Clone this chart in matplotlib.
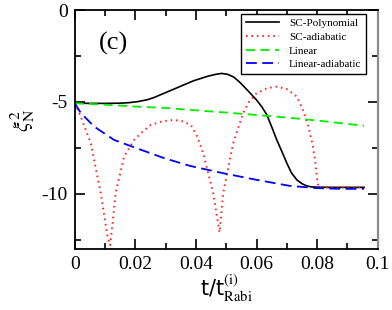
import matplotlib
matplotlib.use("Agg")
import matplotlib.pyplot as plt
from matplotlib.ticker import MultipleLocator

plt.rcParams['font.family'] = ['Liberation Serif', 'DejaVu Serif']
plt.rcParams['mathtext.fontset'] = 'stix'

# SC-Polynomial (black solid)
t_poly = [0, 0.005, 0.010, 0.015, 0.018, 0.021, 0.024, 0.0262, 0.0295, 0.0345, 0.0394,
          0.044, 0.0465, 0.0485, 0.0505, 0.0525, 0.0546, 0.0575, 0.060, 0.0618,
          0.0634, 0.065, 0.0667, 0.0685, 0.070, 0.0715, 0.0733, 0.075, 0.0766,
          0.078, 0.080, 0.085, 0.090, 0.0955]
y_poly = [-5.07, -5.08, -5.08, -5.07, -5.04, -4.98, -4.88, -4.76, -4.53, -4.18, -3.84,
          -3.6, -3.5, -3.45, -3.5, -3.65, -3.95, -4.45, -4.89, -5.28,
          -5.7, -6.35, -7.07, -7.75, -8.33, -8.85, -9.24, -9.45, -9.57,
          -9.62, -9.64, -9.65, -9.65, -9.65]

# SC-adiabatic (red dotted)
t_scad = [0, 0.002, 0.0053, 0.0086, 0.0108, 0.0117, 0.0125, 0.0135, 0.0163, 0.0196,
          0.0225, 0.0251, 0.029, 0.0328, 0.0355, 0.0383, 0.0405, 0.0424, 0.0457,
          0.0478, 0.049, 0.0523, 0.0556, 0.0575, 0.060, 0.0635, 0.0667, 0.070,
          0.0733, 0.0755, 0.0771, 0.0785, 0.0793, 0.080, 0.0805, 0.085, 0.090, 0.0955]
y_scad = [-5.07, -5.8, -7.25, -9.96, -12.3, -12.8, -11.6, -9.96, -7.97, -7.07,
          -6.6, -6.25, -6.05, -5.98, -6.05, -6.25, -6.9, -7.79, -9.96,
          -12.1, -9.96, -7.25, -5.6, -5.0, -4.53, -4.25, -4.17, -4.3,
          -4.71, -5.5, -6.34, -7.3, -8.15, -9.2, -9.65, -9.65, -9.65, -9.65]

# Linear (green dashed)
t_lin = [0, 0.01, 0.0196, 0.03, 0.038, 0.05, 0.06, 0.07, 0.081, 0.0955]
y_lin = [-5.07, -5.15, -5.25, -5.33, -5.43, -5.58, -5.71, -5.85, -6.03, -6.3]

# Linear-adiabatic (blue dashed)
t_linad = [0, 0.002, 0.0064, 0.013, 0.0196, 0.0295, 0.038, 0.049, 0.060, 0.071,
           0.0799, 0.085, 0.090, 0.0955]
y_linad = [-5.07, -5.6, -6.34, -7.07, -7.47, -8.06, -8.48, -8.88, -9.24, -9.57,
           -9.69, -9.72, -9.73, -9.73]

fig = plt.figure(figsize=(3.92, 3.10), dpi=100)
ax = fig.add_axes([0.1906, 0.197, 0.7729, 0.7707])

ax.plot(t_poly, y_poly, color='black', lw=1.2, label='SC-Polynomial')
ax.plot(t_scad, y_scad, color='#ff2020', lw=1.4, ls=(0, (0.8, 2.0)), label='SC-adiabatic')
ax.plot(t_lin, y_lin, color='#00ee00', lw=1.3, ls=(0, (5, 3)), label='Linear')
ax.plot(t_linad, y_linad, color='#0000ff', lw=1.3, ls=(0, (6, 3)), label='Linear-adiabatic')

ax.set_xlim(0, 0.1)
ax.set_ylim(-13, 0)
ax.xaxis.set_minor_locator(MultipleLocator(0.01))
ax.yaxis.set_minor_locator(MultipleLocator(2.5))
ax.set_xticks([0, 0.02, 0.04, 0.06, 0.08, 0.1])
ax.set_xticklabels(['0', '0.02', '0.04', '0.06', '0.08', '0.1'])
ax.set_yticks([-10, -5, 0])
ax.set_yticklabels(['-10', '-5', '0'])

ax.tick_params(which='both', direction='in', top=True, right=True, labelsize=14, width=1.2)
ax.tick_params(which='major', length=7, pad=5)
ax.tick_params(which='minor', length=4)
for side in ['left', 'top', 'bottom']:
    ax.spines[side].set_linewidth(1.3)
ax.spines['right'].set_linewidth(1.6)
ax.spines['right'].set_color('0.55')

ax.set_xlabel(r't/t$_{\mathrm{Rabi}}^{\mathrm{(i)}}$', family='DejaVu Sans', fontsize=15)
ax.xaxis.set_label_coords(0.5, -0.10)
ax.set_ylabel(r'$\xi_{\mathrm{N}}^{2}$', fontsize=16)
ax.yaxis.set_label_coords(-0.125, 0.536)

ax.text(0.127, 0.862, '(c)', transform=ax.transAxes, fontsize=19, ha='center', va='center')

leg = ax.legend(loc='upper right', bbox_to_anchor=(0.961, 0.983), borderaxespad=0,
                fontsize=8, handlelength=3.0, handletextpad=0.9, labelspacing=0.35,
                fancybox=False, edgecolor='black', framealpha=1, borderpad=0.4)
leg.get_frame().set_linewidth(1.0)

fig.savefig('out.png', dpi=100)
